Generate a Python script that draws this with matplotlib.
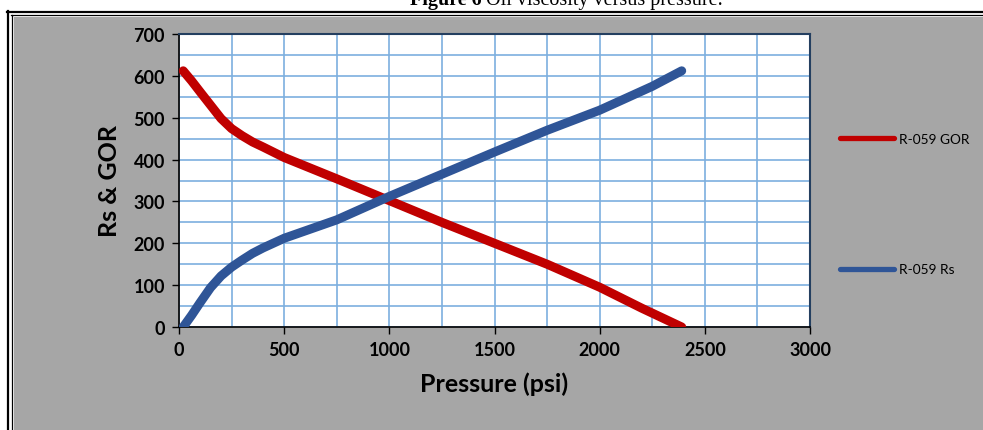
import matplotlib.pyplot as plt
from matplotlib.lines import Line2D
from matplotlib.patches import Rectangle
from matplotlib.ticker import MultipleLocator

# data
pressure_gor = [20, 60, 100, 150, 200, 250, 300, 350, 400, 500, 750, 1000, 1250, 1500, 1750, 2000, 2200, 2390]
gor = [612, 588, 562, 530, 498, 474, 457, 442, 430, 405, 354, 302, 250, 200, 150, 95, 45, 0]

pressure_rs = [20, 60, 100, 150, 200, 250, 300, 350, 400, 500, 750, 1000, 1250, 1500, 1750, 2000, 2250, 2390]
rs = [0, 28, 58, 94, 122, 143, 160, 176, 189, 212, 256, 312, 365, 418, 470, 518, 575, 612]

series_labels = ['R-059 GOR', 'R-059 Rs']
series_colors = ['#C00000', '#2F5597']

W, H = 983, 431
fig = plt.figure(figsize=(W / 100, H / 100), dpi=100)
fig.patch.set_facecolor('white')

# grey chart panel with double border (left and top), drawn behind the axes
fig.patches.append(Rectangle((14 / W, 0), 1, 1 - 18 / H, transform=fig.transFigure,
                             facecolor='#A6A6A6', edgecolor='none', zorder=-10))
fig.add_artist(Line2D([7.5 / W, 7.5 / W], [0, 1 - 12 / H], color='black', lw=1.6, zorder=-5))
fig.add_artist(Line2D([11.5 / W, 11.5 / W], [0, 1 - 16 / H], color='black', lw=0.9, zorder=-5))
fig.add_artist(Line2D([6.5 / W, 1], [1 - 12.5 / H, 1 - 12.5 / H], color='black', lw=1.6, zorder=-5))
fig.add_artist(Line2D([11 / W, 1], [1 - 16 / H, 1 - 16 / H], color='black', lw=0.9, zorder=-5))

# title (clipped at top of image, as in the source)
t1 = fig.text(410 / W, 1 - 5 / H, 'Figure 6', fontsize=14.5, fontweight='bold',
              family='Liberation Serif', va='baseline', ha='left')
fig.canvas.draw()
bb = t1.get_window_extent()
fig.text(bb.x1 / W + 4 / W, 1 - 5 / H, 'Oil viscosity versus pressure.', fontsize=14.5,
         family='Liberation Serif', va='baseline', ha='left')

ax = fig.add_axes([179 / W, 1 - 328 / H, (810 - 179) / W, (328 - 35) / H])
ax.set_facecolor('white')

ax.plot(pressure_gor, gor, color=series_colors[0], lw=6.5, solid_capstyle='round',
        solid_joinstyle='round', zorder=3)
ax.plot(pressure_rs, rs, color=series_colors[1], lw=6.5, solid_capstyle='round',
        solid_joinstyle='round', zorder=3)

ax.set_xlim(0, 3000)
ax.set_ylim(0, 700)
ax.xaxis.set_major_locator(MultipleLocator(500))
ax.xaxis.set_minor_locator(MultipleLocator(250))
ax.yaxis.set_major_locator(MultipleLocator(100))
ax.yaxis.set_minor_locator(MultipleLocator(50))
ax.grid(True, which='both', color='#7DAFDF', lw=1.2)
ax.set_axisbelow(True)
ax.tick_params(which='major', direction='out', length=5, width=1, color='black', pad=5)
ax.tick_params(which='minor', length=0)

for lab in ax.get_xticklabels() + ax.get_yticklabels():
    lab.set_fontfamily('Lato')
    lab.set_fontweight('bold')
    lab.set_fontsize(13)

for s in ['left', 'bottom']:
    ax.spines[s].set_color('black')
    ax.spines[s].set_linewidth(1.2)
for s in ['top', 'right']:
    ax.spines[s].set_color('#243F60')
    ax.spines[s].set_linewidth(1.5)

ax.set_xlabel('Pressure (psi)', fontsize=18, fontweight='bold', family='Lato', labelpad=10)
ax.set_ylabel('Rs & GOR', fontsize=18, fontweight='bold', family='Lato', labelpad=9)

handles = [Line2D([0], [0], color=c, lw=3.8, solid_capstyle='round') for c in series_colors]
fig.legend(handles, series_labels, loc='upper left', bbox_to_anchor=(840 / W, 1 - 134 / H),
           frameon=False, prop={'family': 'Lato', 'size': 9.8}, handlelength=4.0,
           handletextpad=0.35, labelspacing=8.7, borderpad=0, borderaxespad=0)

fig.savefig('out.png', dpi=100, facecolor='white')
